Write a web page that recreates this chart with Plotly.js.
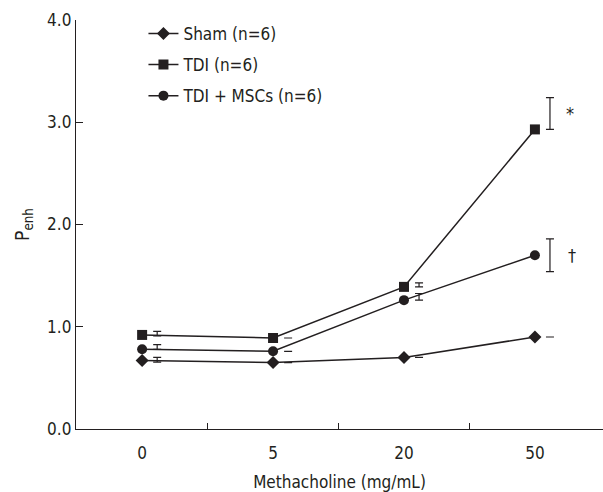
<!DOCTYPE html>
<html>
<head>
<meta charset="utf-8">
<script src="https://cdn.plot.ly/plotly-3.0.1.min.js"></script>
<style>html,body{margin:0;padding:0;background:#fff;}#chart{width:603px;height:492px;}</style>
</head>
<body>
<div id="chart"></div>
<script>
var categories = ['0', '5', '20', '50'];
var seriesNames = ['Sham (n=6)', 'TDI (n=6)', 'TDI + MSCs (n=6)'];
var shamValues = [0.67, 0.65, 0.70, 0.90];
var tdiValues = [0.92, 0.89, 1.39, 2.93];
var mscValues = [0.78, 0.76, 1.26, 1.70];
var shamErrPlus = [0.03, 0.0, 0.0, 0.0];
var shamErrMinus = [0.015, 0.0, 0.0, 0.0];
var tdiErrPlus = [0.035, 0.0, 0.04, 0.31];
var tdiErrMinus = [0.01, 0.0, 0.0, 0.0];
var mscErrPlus = [0.045, 0.0, 0.065, 0.16];
var mscErrMinus = [0.0, 0.0, 0.0, 0.16];
var sigLabels = ['*', '\u2020'];

var FONT = '"Liberation Sans Narrow", "DejaVu Sans Condensed", "Arial Narrow", sans-serif';
var INK = '#231f20';
var idx = categories.map(function (c, i) { return i; });
var errShift = 0.115;
var errX = idx.map(function (i) { return i + errShift; });

function lineTrace(name, vals, symbol, size, grp) {
  return {
    x: idx, y: vals, name: name, type: 'scatter', mode: 'lines+markers',
    legendgroup: grp,
    line: {color: INK, width: 1.5},
    marker: {symbol: symbol, size: size, color: INK},
    cliponaxis: false
  };
}
function errTrace(vals, plus, minus) {
  return {
    x: errX, y: vals, type: 'scatter', mode: 'markers', showlegend: false,
    hoverinfo: 'skip',
    marker: {size: 1, opacity: 0, color: INK},
    error_y: {type: 'data', symmetric: false, array: plus, arrayminus: minus,
              color: INK, thickness: 1.2, width: 4},
    cliponaxis: false
  };
}

var data = [
  lineTrace(seriesNames[0], shamValues, 'diamond', 10, 'a'),
  lineTrace(seriesNames[1], tdiValues, 'square', 10, 'b'),
  lineTrace(seriesNames[2], mscValues, 'circle', 10, 'c'),
  errTrace(shamValues, shamErrPlus, shamErrMinus),
  errTrace(tdiValues, tdiErrPlus, tdiErrMinus),
  errTrace(mscValues, mscErrPlus, mscErrMinus)
];

var last = categories.length - 1;
var layout = {
  width: 603, height: 492,
  margin: {l: 76, r: 0, t: 20, b: 63},
  paper_bgcolor: '#fff', plot_bgcolor: '#fff',
  font: {family: FONT, size: 17, color: INK},
  showlegend: true,
  legend: {x: 0.128, y: 1.01, xanchor: 'left', yanchor: 'top',
           bgcolor: 'rgba(0,0,0,0)', traceorder: 'grouped', tracegroupgap: 6,
           font: {family: FONT, size: 17, color: INK}},
  xaxis: {
    range: [-0.505, 3.52], tickvals: idx, ticktext: categories,
    ticks: '', showgrid: false, zeroline: false, ticklabelstandoff: 8,
    showline: true, linecolor: INK, linewidth: 1.2,
    tickfont: {family: FONT, size: 17, color: INK},
    minor: {tickvals: [0.5, 1.5, 2.5], ticks: 'inside', ticklen: 6, tickcolor: INK, tickwidth: 1, showgrid: false},
    title: {text: 'Methacholine (mg/mL)', standoff: 14, font: {family: FONT, size: 17, color: INK}}
  },
  yaxis: {
    range: [0, 4], tickvals: [0, 1, 2, 3, 4], tickformat: '.1f',
    ticks: 'inside', ticklen: 7, tickcolor: INK, tickwidth: 1,
    showgrid: false, zeroline: false,
    showline: true, linecolor: INK, linewidth: 1.2,
    tickfont: {family: FONT, size: 17, color: INK},
    title: {text: 'P<sub>enh</sub>', standoff: 12, font: {family: FONT, size: 19, color: INK}}
  },
  annotations: [
    {x: last + 0.27, y: tdiValues[last] + tdiErrPlus[last] / 2, xref: 'x', yref: 'y',
     text: sigLabels[0], showarrow: false, font: {family: FONT, size: 18, color: INK}},
    {x: last + 0.28, y: mscValues[last], xref: 'x', yref: 'y',
     text: sigLabels[1], showarrow: false, font: {family: FONT, size: 18, color: INK}}
  ]
};

Plotly.newPlot('chart', data, layout, {displayModeBar: false, staticPlot: true});
</script>
</body>
</html>
